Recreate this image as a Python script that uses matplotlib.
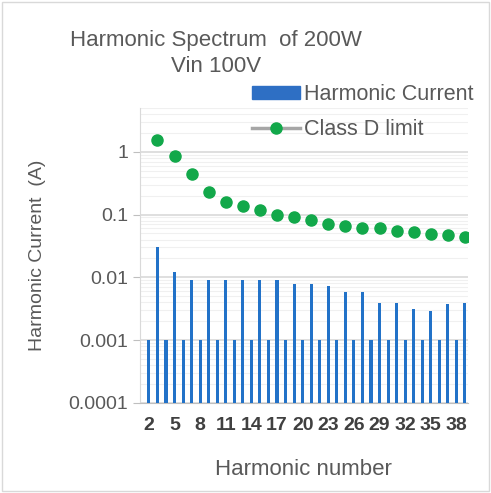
import numpy as np
import matplotlib
matplotlib.use("Agg")
from matplotlib import pyplot as plt
from matplotlib.lines import Line2D
from matplotlib.patches import Patch

# datos
harmonics = list(range(2, 40))
current = [0.001, 0.030, 0.001, 0.012, 0.001, 0.0089, 0.001, 0.0089, 0.001, 0.0089,
           0.001, 0.0089, 0.001, 0.0089, 0.001, 0.0089, 0.001, 0.0078, 0.001, 0.0078,
           0.001, 0.0072, 0.001, 0.0059, 0.001, 0.0059, 0.001, 0.0039, 0.001, 0.0039,
           0.001, 0.0031, 0.001, 0.0029, 0.001, 0.0037, 0.001, 0.0039]
limit_orders = [3, 5, 7, 9, 11, 13, 15, 17, 19, 21, 23, 25, 27, 29, 31, 33, 35, 37, 39]
class_d = [1.53, 0.86, 0.45, 0.227, 0.157, 0.136, 0.117, 0.100, 0.090, 0.081,
           0.072, 0.065, 0.062, 0.060, 0.054, 0.052, 0.049, 0.0475, 0.0447]
xtick_labels = [str(h) for h in harmonics[::3]]

plt.rcParams['font.family'] = ['Liberation Sans', 'DejaVu Sans']
grey = '#595959'

fig = plt.figure(figsize=(4.91, 4.93), dpi=100)
ax = fig.add_axes([0.285, 0.183, 0.668, 0.598])

pos = np.arange(len(harmonics))
ax.bar(pos, current, width=0.36, color='#2272C8', zorder=3)
lim_pos = [harmonics.index(h) for h in limit_orders]
ax.plot(lim_pos, class_d, linestyle='none', marker='o', markersize=8,
        color='#12A84A', zorder=4)

ax.set_yscale('log')
ax.set_yticks([1e-4, 1e-3, 1e-2, 1e-1, 1])
ax.set_yticklabels(['0.0001', '0.001', '0.01', '0.1', '1'])
ax.set_yticks([m * 10.0 ** e for e in range(-4, 1) for m in range(2, 10)], minor=True)
ax.set_xticks(pos[::3])
ax.set_xticklabels(xtick_labels, family=['Liberation Sans Narrow', 'Liberation Sans'],
                   fontweight='bold')
ax.set_ylim(1e-4, 5)
ax.set_xlim(-1.05, len(harmonics) - 0.65)

ax.tick_params(axis='y', labelsize=14, colors='#bfbfbf', labelcolor=grey, length=5, width=0.8)
ax.tick_params(axis='y', which='minor', length=0, labelleft=False)
ax.tick_params(axis='x', labelsize=14, labelcolor='#404040', length=0, pad=10)

ax.grid(True, which='major', axis='y', color='#d9d9d9', linewidth=1.2, zorder=0)
ax.grid(True, which='minor', axis='y', color='#f0f0f0', linewidth=0.8, zorder=0)
for s in ['top', 'right']:
    ax.spines[s].set_visible(False)
ax.spines['left'].set_color('#d9d9d9')
ax.spines['bottom'].set_color('#bfbfbf')

ax.set_xlabel('Harmonic number', fontsize=16, color=grey, labelpad=18)
ax.set_ylabel('Harmonic Current  (A)', fontsize=14, color=grey, labelpad=16)

fig.text(0.44, 0.918, 'Harmonic Spectrum  of 200W', ha='center', va='center',
         fontsize=16, color=grey)
fig.text(0.44, 0.866, 'Vin 100V', ha='center', va='center', fontsize=16, color=grey)

handles = [Patch(facecolor='#2E6FC4', edgecolor='#2E6FC4'),
           Line2D([0], [0], color='#a6a6a6', linewidth=2.5, marker='o',
                  markersize=8, markerfacecolor='#12A84A', markeredgecolor='#12A84A')]
leg = fig.legend(handles, ['Harmonic Current', 'Class D limit'], loc='upper left',
                 bbox_to_anchor=(0.505, 0.838), frameon=False, fontsize=15.5,
                 handlelength=2.2, handleheight=0.6, handletextpad=0.2,
                 labelspacing=0.65, borderaxespad=0, borderpad=0.2)
for t in leg.get_texts():
    t.set_color(grey)

fig.patches.append(plt.Rectangle((0.005, 0.005), 0.99, 0.99, transform=fig.transFigure,
                                 fill=False, edgecolor='#d9d9d9', linewidth=1))

plt.savefig('out.png', dpi=100)
